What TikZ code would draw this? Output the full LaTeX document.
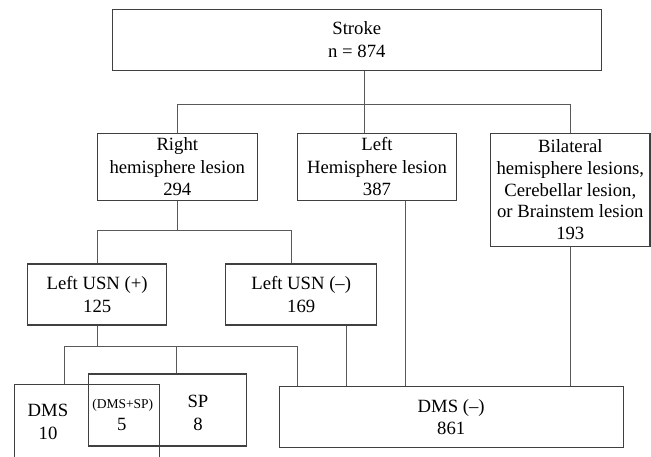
\documentclass[tikz,border=0pt]{standalone}
\usepackage{fontspec}
\setmainfont{Liberation Serif}
\usepackage{tikz}
\usetikzlibrary{calc,positioning}
\definecolor{boxgray}{rgb}{0.25,0.25,0.25}
\definecolor{linegray}{rgb}{0.35,0.35,0.35}

\begin{document}
\begin{tikzpicture}[x=1pt,y=-1pt,
    box/.style={draw=boxgray, line width=1.1pt, align=center, inner sep=0pt,
      font=\fontsize{18.7}{22.5}\selectfont},
    lbl/.style={align=center, inner sep=0pt, font=\fontsize{18.7}{22.5}\selectfont},
    link/.style={draw=linegray, line width=1pt}]
  % frame
  \useasboundingbox (0,0) rectangle (651,456);
  \clip (0,0) rectangle (651,456);
  % boxes
  \node[box, minimum width=489pt, minimum height=61pt] (stroke) at (356.8,39.8) {Stroke\\n = 874};
  \node[box, minimum width=159.7pt, minimum height=67pt] (rhem) at (177.3,166.8) {Right\\hemisphere lesion\\294};
  \node[box, minimum width=159.4pt, minimum height=67pt] (lhem) at (377,166.8) {Left\\Hemisphere lesion\\387};
  \node[box, minimum width=159.3pt, minimum height=112.7pt, font=\fontsize{18.7}{21.7}\selectfont] (bilat) at (570.3,189.7) {Bilateral\\hemisphere lesions,\\Cerebellar lesion,\\or Brainstem lesion\\193};
  \node[box, minimum width=139pt, minimum height=61pt] (usnpos) at (97.2,294.5) {Left USN (+)\\125};
  \node[box, minimum width=151pt, minimum height=61pt] (usnneg) at (301.2,294.5) {Left USN (–)\\169};
  \node[box, minimum width=144.7pt, minimum height=95.3pt] (dms) at (86.7,432.3) {};
  \node[box, minimum width=158pt, minimum height=72pt] (sp) at (167.7,410) {};
  \node[box, minimum width=343.7pt, minimum height=60.6pt] (dmsneg) at (451.2,417) {DMS (–)\\861};
  % texts of the overlapping boxes
  \node[lbl] (dmstxt) at (48,421.8) {DMS\\10};
  \node[lbl] (sptxt) at (198,412.8) {SP\\8};
  \node[lbl, anchor=base, font=\fontsize{13.5}{16}\selectfont] (bothtxt) at (122.8,408) {(DMS+SP)};
  \node[lbl, anchor=base] (bothnum) at (121.7,430) {5};
  % first split
  \coordinate (j1) at (364.7,104.3);
  \draw[link] (stroke.south -| j1) -- (lhem.north -| j1);
  \draw[link] (rhem.north) |- (j1) -| (bilat.north);
  % right hemisphere split
  \coordinate (j2) at (291.3,230.7);
  \draw[link] (rhem.south) -- (rhem.south |- j2);
  \draw[link] (usnpos.north) |- (j2) -- (usnneg.north -| j2);
  % USN (+) split
  \coordinate (b1) at (64.7,346.7);
  \coordinate (b2) at (176.3,346.7);
  \coordinate (b3) at (297.3,346.7);
  \draw[link] (usnpos.south) -- (usnpos.south |- b1);
  \draw[link] (dms.north -| b1) -- (b1) -- (b3) -- (dmsneg.north -| b3);
  \draw[link] (b2) -- (sp.north -| b2);
  % down to DMS (-)
  \coordinate (d1) at (346,0);
  \coordinate (d2) at (405.7,0);
  \draw[link] (usnneg.south -| d1) -- (dmsneg.north -| d1);
  \draw[link] (lhem.south -| d2) -- (dmsneg.north -| d2);
  \draw[link] (bilat.south) -- (dmsneg.north -| bilat.south);
\end{tikzpicture}
\end{document}
